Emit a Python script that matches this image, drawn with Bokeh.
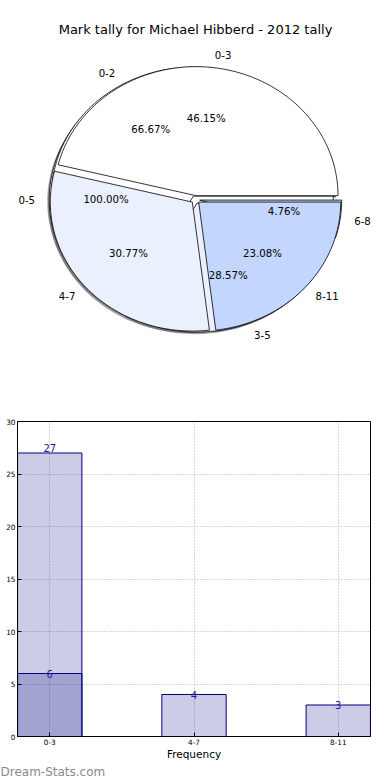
import numpy as np
from bokeh.plotting import figure
from bokeh.layouts import column
from bokeh.models import Range1d, FixedTicker, Title, ColumnDataSource
from bokeh.core.properties import value
from bokeh.embed import file_html
from bokeh.resources import INLINE

# ---------------- data ----------------
chart_title = "Mark tally for Michael Hibberd - 2012 tally"

pie1_labels = ["0-3", "4-7", "8-11"]
pie1_values = [6, 4, 3]
pie2_labels = ["0-2", "3-5", "6-8"]
pie2_values = [14, 6, 1]
pie3_labels = ["0-5"]
pie3_values = [1]

bar_categories = ["0-3", "4-7", "8-11"]
series_a_categories = ["0-3"]
series_a_values = [27]
series_b_categories = ["0-3", "4-7", "8-11"]
series_b_values = [6, 4, 3]
y_ticks = [0, 5, 10, 15, 20, 25, 30]
x_axis_label = "Frequency"
watermark = "Dream-Stats.com"

# ---------------- styles ----------------
FONT = "DejaVu Sans"
slice_colors = ["#ffffff", "#eaf0fe", "#c3d6fe"]
EXPLODE = 0.03
PCT_DIST = 0.6
LABEL_DIST = 1.1
SHADOW_DX, SHADOW_DY = -0.014, -0.016
LEFT = 17          # common left border of both figures (frames are aligned)
CX, CY, RX, RY = 195.0, 199.0, 142.0, 129.0   # pie centre / radii in page pixels


def pie_geometry(values, labels):
    total = float(sum(values))
    polys_x, polys_y, colors = [], [], []
    lab = dict(x=[], y=[], text=[], align=[])
    pct = dict(x=[], y=[], text=[])
    start = 0.0
    for i, v in enumerate(values):
        frac = v / total
        end = start + frac * 2 * np.pi
        mid = 0.5 * (start + end)
        ox, oy = EXPLODE * np.cos(mid), EXPLODE * np.sin(mid)
        t = np.linspace(start, end, max(3, int(frac * 240)))
        if frac >= 0.9999:
            px = ox + np.cos(t)
            py = oy + np.sin(t)
        else:
            px = np.concatenate([[ox], ox + np.cos(t), [ox]])
            py = np.concatenate([[oy], oy + np.sin(t), [oy]])
        polys_x.append(list(px))
        polys_y.append(list(py))
        colors.append(slice_colors[i % len(slice_colors)])
        lx = ox + LABEL_DIST * np.cos(mid)
        ly = oy + LABEL_DIST * np.sin(mid)
        lab["x"].append(lx)
        lab["y"].append(ly)
        lab["text"].append(labels[i])
        lab["align"].append("left" if lx > 0 else "right")
        pct["x"].append(ox + PCT_DIST * np.cos(mid))
        pct["y"].append(oy + PCT_DIST * np.sin(mid))
        pct["text"].append("%.2f%%" % (100.0 * frac))
        start = end
    return polys_x, polys_y, colors, lab, pct


# ---------------- pie figure ----------------
PIE_TOP, PIE_BOTTOM, PIE_RIGHT = 37, 400, 373
pie = figure(frame_width=PIE_RIGHT - LEFT, frame_height=PIE_BOTTOM - PIE_TOP,
             output_backend="svg", toolbar_location=None,
             x_range=Range1d((LEFT - CX) / RX, (PIE_RIGHT - CX) / RX),
             y_range=Range1d((CY - PIE_BOTTOM) / RY, (CY - PIE_TOP) / RY),
             x_axis_type=None, y_axis_type=None,
             min_border_left=LEFT, min_border_right=390 - PIE_RIGHT,
             min_border_bottom=0, min_border_top=PIE_TOP)
pie.grid.visible = False
pie.outline_line_color = None
pie.title.text = chart_title
pie.title.align = "center"
pie.title.text_font = FONT
pie.title.text_font_size = "13px"
pie.title.text_font_style = "normal"
pie.title.text_color = "#000000"
pie.title.standoff = 1

pies = [(pie3_values, pie3_labels), (pie2_values, pie2_labels), (pie1_values, pie1_labels)]
geoms = [pie_geometry(v, l) for v, l in pies]

for pxs, pys, cols, lab, pct in geoms:
    sx = [[x + SHADOW_DX for x in poly] for poly in pxs]
    sy = [[y + SHADOW_DY for y in poly] for poly in pys]
    pie.patches(sx, sy, fill_color="#4d4d4d", fill_alpha=0.5, line_color=None)

for pxs, pys, cols, lab, pct in geoms:
    pie.patches(pxs, pys, fill_color=cols, line_color="#000000", line_width=0.8)

for pxs, pys, cols, lab, pct in geoms:
    pie.text(x="x", y="y", text="text", source=ColumnDataSource(lab),
             text_align="align", text_baseline="middle",
             text_font=value(FONT), text_font_size="10.2px", text_color="#000000")
    pie.text(x="x", y="y", text="text", source=ColumnDataSource(pct),
             text_align="center", text_baseline="middle",
             text_font=value(FONT), text_font_size="10.2px", text_color="#000000")

# ---------------- bar figure ----------------
bar = figure(frame_width=353, frame_height=315, output_backend="svg", toolbar_location=None,
             x_range=Range1d(-0.2235, 2.2235), y_range=Range1d(0, 30),
             min_border_left=LEFT, min_border_right=20, min_border_top=21,
             min_border_bottom=30)

xa = [bar_categories.index(c) for c in series_a_categories]
xb = [bar_categories.index(c) for c in series_b_categories]
BAR_W = 0.446
bar.vbar(x=xa, top=series_a_values, width=BAR_W, fill_color="#000080", fill_alpha=0.2,
         line_color="#000080", line_width=1)
bar.vbar(x=xb, top=series_b_values, width=BAR_W, fill_color="#000080", fill_alpha=0.2,
         line_color="#000080", line_width=1)

bar.text(x=xa, y=series_a_values, text=[str(v) for v in series_a_values],
         text_align="center", text_baseline="bottom", y_offset=-1,
         text_font=value(FONT), text_font_size="10px", text_color="#1c1c8c")
bar.text(x=xb, y=series_b_values, text=[str(v) for v in series_b_values],
         text_align="center", text_baseline="middle",
         text_font=value(FONT), text_font_size="10px", text_color="#1c1c8c")

xt = FixedTicker(ticks=list(range(len(bar_categories))))
yt = FixedTicker(ticks=y_ticks)
bar.xaxis.ticker = xt
bar.yaxis.ticker = yt
bar.xaxis.major_label_overrides = {i: c for i, c in enumerate(bar_categories)}
bar.xaxis.axis_label = x_axis_label
bar.xaxis.axis_label_text_font = FONT
bar.xaxis.axis_label_text_font_size = "10.5px"
bar.xaxis.axis_label_text_font_style = "normal"
bar.xaxis.axis_label_text_color = "#000000"
bar.xaxis.axis_label_standoff = 0
for ax in (bar.xaxis, bar.yaxis):
    ax.major_tick_in = 4
    ax.major_tick_out = 0
    ax.minor_tick_line_color = None
    ax.axis_line_color = "#000000"
    ax.major_tick_line_color = "#000000"
    ax.major_label_text_font = FONT
    ax.major_label_text_font_size = "7.3px"
    ax.major_label_text_color = "#000000"
bar.xaxis.major_label_standoff = 2
bar.yaxis.major_label_standoff = 2

bar.xgrid.ticker = xt
bar.ygrid.ticker = yt
for g in (bar.xgrid, bar.ygrid):
    g.grid_line_color = "#b0b0b0"
    g.grid_line_dash = "1 2"
    g.grid_line_width = 1
bar.outline_line_color = "#000000"
bar.outline_line_width = 1

bar.add_layout(Title(text=watermark, align="left", offset=-LEFT,
                     text_font=FONT, text_font_size="12px",
                     text_font_style="normal", text_color="#8a8a8a",
                     standoff=0), "below")

layout = column(pie, bar, spacing=0)
open("out.html", "w").write(file_html(layout, INLINE))
